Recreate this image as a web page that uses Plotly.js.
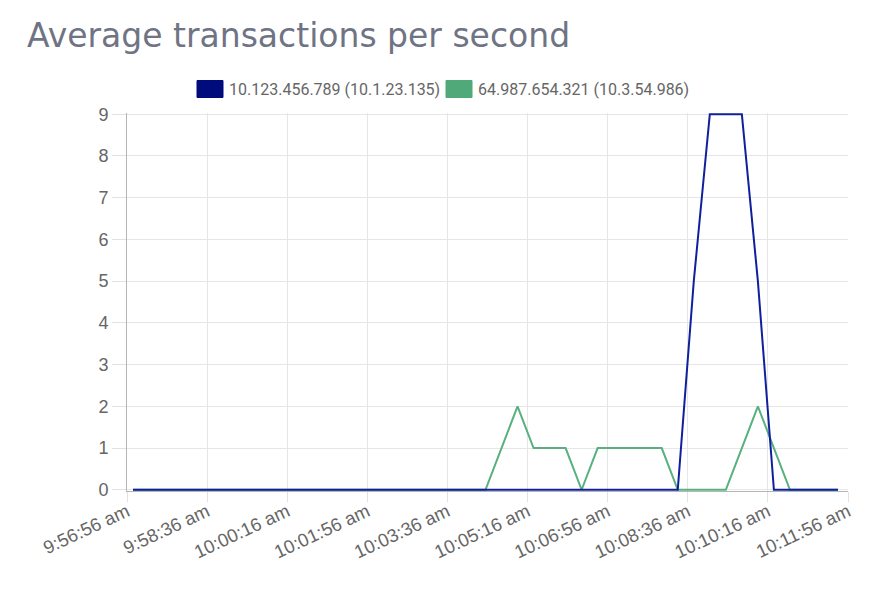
<!DOCTYPE html>
<html>
<head>
<meta charset="utf-8">
<script src="https://cdn.plot.ly/plotly-3.0.1.min.js"></script>
<style>html,body{margin:0;padding:0;background:#fff;}#chart{width:876px;height:590px;}</style>
</head>
<body>
<div id="chart"></div>
<script>
// ---- data ----
const seriesNames = ["10.123.456.789 (10.1.23.135)", "64.987.654.321 (10.3.54.986)"];
const times = [
  "2024-01-01 09:57:03.5","2024-01-01 09:57:23.5","2024-01-01 09:57:43.5","2024-01-01 09:58:03.5",
  "2024-01-01 09:58:23.5","2024-01-01 09:58:43.5","2024-01-01 09:59:03.5","2024-01-01 09:59:23.5",
  "2024-01-01 09:59:43.5","2024-01-01 10:00:03.5","2024-01-01 10:00:23.5","2024-01-01 10:00:43.5",
  "2024-01-01 10:01:03.5","2024-01-01 10:01:23.5","2024-01-01 10:01:43.5","2024-01-01 10:02:03.5",
  "2024-01-01 10:02:23.5","2024-01-01 10:02:43.5","2024-01-01 10:03:03.5","2024-01-01 10:03:23.5",
  "2024-01-01 10:03:43.5","2024-01-01 10:04:03.5","2024-01-01 10:04:23.5","2024-01-01 10:04:43.5",
  "2024-01-01 10:05:03.5","2024-01-01 10:05:23.5","2024-01-01 10:05:43.5","2024-01-01 10:06:03.5",
  "2024-01-01 10:06:23.5","2024-01-01 10:06:43.5","2024-01-01 10:07:03.5","2024-01-01 10:07:23.5",
  "2024-01-01 10:07:43.5","2024-01-01 10:08:03.5","2024-01-01 10:08:23.5","2024-01-01 10:08:43.5",
  "2024-01-01 10:09:03.5","2024-01-01 10:09:23.5","2024-01-01 10:09:43.5","2024-01-01 10:10:03.5",
  "2024-01-01 10:10:23.5","2024-01-01 10:10:43.5","2024-01-01 10:11:03.5","2024-01-01 10:11:23.5",
  "2024-01-01 10:11:43.5"
];
const seriesA = [0,0,0,0,0,0,0,0,0,0, 0,0,0,0,0,0,0,0,0,0, 0,0,0,0,0,0,0,0,0,0, 0,0,0,0,0,5,9,9,9,5, 0,0,0,0,0];
const seriesB = [0,0,0,0,0,0,0,0,0,0, 0,0,0,0,0,0,0,0,0,0, 0,0,0,1,2,1,1,1,0,1, 1,1,1,1,0,0,0,0,1,2, 1,0,0,0,0];
const tickTimes = ["2024-01-01 09:56:56","2024-01-01 09:58:36","2024-01-01 10:00:16","2024-01-01 10:01:56",
  "2024-01-01 10:03:36","2024-01-01 10:05:16","2024-01-01 10:06:56","2024-01-01 10:08:36",
  "2024-01-01 10:10:16","2024-01-01 10:11:56"];
const tickLabels = ["9:56:56 am","9:58:36 am","10:00:16 am","10:01:56 am","10:03:36 am",
  "10:05:16 am","10:06:56 am","10:08:36 am","10:10:16 am","10:11:56 am"];
const yTicks = [0,1,2,3,4,5,6,7,8,9];
const chartTitle = "Average transactions per second";

// ---- styling ----
const colorA = "#10209a", boxA = "#000b7c";
const colorB = "#58b07f", boxB = "#4fa978";
const W = 876, H = 590;
const yPad = 0.03;                       // small pad so edge lines are not half-clipped
const unitPx = 376 / 9;
const M = {l:127, r:28, t:Math.round(114 - yPad * unitPx), b:Math.round(100 - yPad * unitPx)};
const pw = W - M.l - M.r, ph = H - M.t - M.b;
const px = x => (x - M.l) / pw;
const py = y => (H - M.b - y) / ph;

const traces = [
  {x: times, y: seriesB, name: seriesNames[1], type: "scatter", mode: "lines",
   line: {color: colorB, width: 2}, showlegend: false, hoverinfo: "x+y"},
  {x: times, y: seriesA, name: seriesNames[0], type: "scatter", mode: "lines",
   line: {color: colorA, width: 2}, showlegend: false, hoverinfo: "x+y"}
];

const legendItems = [
  {box: [197, 223], text: 229, color: boxA, name: seriesNames[0]},
  {box: [446, 472], text: 478, color: boxB, name: seriesNames[1]}
];
const shapes = legendItems.map(it => ({
  type: "rect", xref: "paper", yref: "paper",
  x0: px(it.box[0]), x1: px(it.box[1]), y0: py(97.5), y1: py(80.5),
  fillcolor: it.color, line: {color: it.color, width: 1}
}));
const annotations = legendItems.map(it => ({
  xref: "paper", yref: "paper", x: px(it.text - 2), y: py(89.5),
  xanchor: "left", yanchor: "middle", showarrow: false, text: it.name,
  font: {family: "Roboto, sans-serif", size: 16, color: "#666"}
}));

const yTickFont = {family: "Liberation Sans, Arial, sans-serif", size: 18, color: "#666"};
const xTickFont = {family: "Liberation Sans, Arial, sans-serif", size: 18.5, color: "#666"};
const layout = {
  width: W, height: H,
  margin: M,
  paper_bgcolor: "#fff", plot_bgcolor: "#fff",
  title: {text: chartTitle, x: 27 / W, xanchor: "left", xref: "container",
          y: 1 - 35 / H, yanchor: "middle", yref: "container",
          font: {family: "DejaVu Sans, sans-serif", size: 33, color: "#6f7484"}},
  xaxis: {type: "date", range: [tickTimes[0], tickTimes[tickTimes.length - 1]],
          tickmode: "array", tickvals: tickTimes, ticktext: tickLabels,
          tickangle: -25, ticks: "outside", ticklen: 10, tickcolor: "#e2e2e2",
          ticklabelstandoff: -8,
          showgrid: true, gridcolor: "#e6e6e6", gridwidth: 1, layer: "below traces",
          showline: true, linecolor: "#b5b5b5", linewidth: 1, zeroline: false,
          tickfont: xTickFont, fixedrange: true},
  yaxis: {range: [-yPad, 9 + yPad], tickmode: "array", tickvals: yTicks,
          ticks: "outside", ticklen: 14, tickcolor: "#e2e2e2",
          showgrid: true, gridcolor: "#e6e6e6", gridwidth: 1, layer: "below traces",
          showline: true, linecolor: "#b5b5b5", linewidth: 1, zeroline: false,
          tickfont: yTickFont, fixedrange: true},
  shapes: shapes,
  annotations: annotations,
  showlegend: false
};

Plotly.newPlot("chart", traces, layout, {displayModeBar: false, staticPlot: true});
</script>
</body>
</html>
